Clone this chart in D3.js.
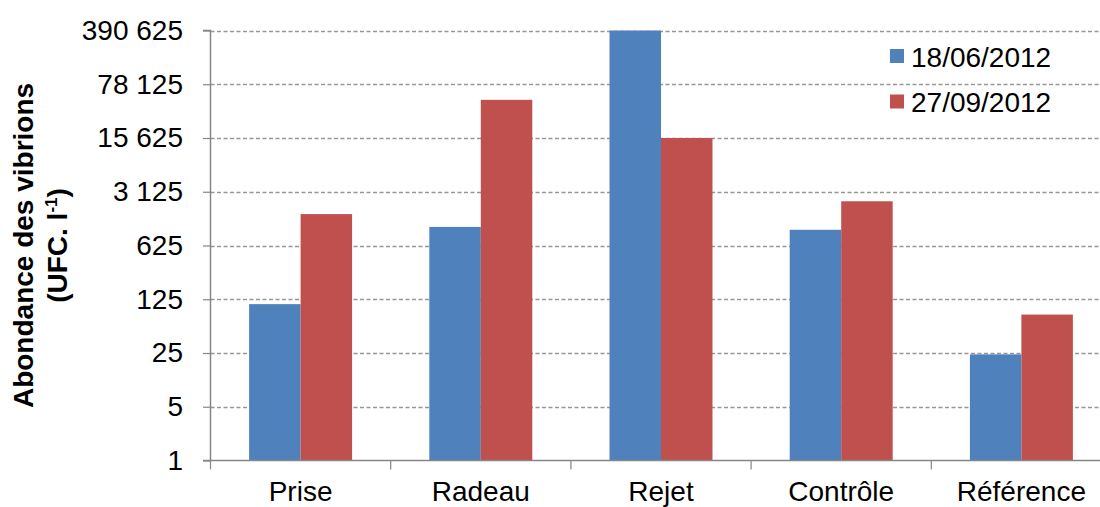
<!DOCTYPE html>
<html>
<head>
<meta charset="utf-8">
<script src="https://cdn.jsdelivr.net/npm/d3@7"></script>
<style>
  html, body { margin: 0; padding: 0; background: #fff; }
  svg { display: block; font-family: "Liberation Sans", Arial, sans-serif; }
</style>
</head>
<body>
<svg id="chart" width="1100" height="507"></svg>
<script>
// Sampling sites and vibrio counts (UFC per litre) for the two campaigns
const categories = ["Prise", "Radeau", "Rejet", "Contrôle", "Référence"];
const seriesNames = ["18/06/2012", "27/09/2012"];
const juneValues = [108, 1090, 390625, 1000, 24];
const septemberValues = [1600, 49000, 15625, 2350, 79];
const tickValues = [1, 5, 25, 125, 625, 3125, 15625, 78125, 390625];
const colors = ["#4F81BD", "#C0504D"];

const series = [juneValues, septemberValues];
const rows = categories.map((c, i) => ({
  category: c,
  values: seriesNames.map((s, j) => ({ series: s, value: series[j][i] }))
}));

const svg = d3.select("#chart");
const plot = { left: 210.5, right: 1111.5, top: 30.5, bottom: 460.5 };

const y = d3.scaleLog().base(5).domain([1, 390625]).range([plot.bottom, plot.top]);
const x0 = d3.scaleBand().domain(categories).range([plot.left, plot.right]).padding(0);
const x1 = d3.scaleBand().domain(seriesNames).range([0, x0.bandwidth()])
  .paddingInner(0).paddingOuter(0.75);
const color = d3.scaleOrdinal().domain(seriesNames).range(colors);

const fmt = d3.formatLocale({ decimal: ",", thousands: " ", grouping: [3], currency: ["", " €"] }).format(",d");

// Dashed horizontal gridlines
svg.append("g")
  .selectAll("line")
  .data(tickValues.slice(1))
  .join("line")
  .attr("x1", plot.left)
  .attr("x2", 1100)
  .attr("y1", d => Math.round(y(d)) + 0.5)
  .attr("y2", d => Math.round(y(d)) + 0.5)
  .attr("stroke", "#969696")
  .attr("stroke-width", 1.3)
  .attr("stroke-dasharray", "4,2.5");

// Bars
const groups = svg.append("g")
  .selectAll("g")
  .data(rows)
  .join("g")
  .attr("transform", d => `translate(${x0(d.category)},0)`);

groups.selectAll("rect")
  .data(d => d.values)
  .join("rect")
  .attr("x", d => x1(d.series))
  .attr("width", x1.bandwidth())
  .attr("y", d => y(d.value))
  .attr("height", d => plot.bottom - y(d.value))
  .attr("fill", d => color(d.series));

// Y axis
const yAxis = d3.axisLeft(y)
  .tickValues(tickValues)
  .tickFormat(d => fmt(d))
  .tickSize(7.5)
  .tickPadding(20);

const yg = svg.append("g")
  .attr("transform", `translate(${plot.left},0)`)
  .call(yAxis);
yg.select(".domain").attr("stroke", "#868686").attr("stroke-width", 1.5)
  .attr("d", `M-7.5,${plot.top}H0V${plot.bottom}`);
yg.selectAll(".tick line").attr("stroke", "#868686").attr("stroke-width", 1.2);
yg.selectAll(".tick text")
  .attr("font-size", 28)
  .attr("fill", "#000")
  .attr("font-family", "Liberation Sans, Arial, sans-serif");

// X axis with category separators
const xg = svg.append("g");
xg.append("line")
  .attr("x1", plot.left - 7.5)
  .attr("x2", 1100)
  .attr("y1", plot.bottom)
  .attr("y2", plot.bottom)
  .attr("stroke", "#868686")
  .attr("stroke-width", 1.5);
xg.selectAll("line.sep")
  .data(categories)
  .join("line")
  .attr("class", "sep")
  .attr("x1", d => x0(d))
  .attr("x2", d => x0(d))
  .attr("y1", plot.bottom)
  .attr("y2", plot.bottom + 9)
  .attr("stroke", "#868686")
  .attr("stroke-width", 1.2);
xg.selectAll("text")
  .data(categories)
  .join("text")
  .attr("x", d => x0(d) + x0.bandwidth() / 2)
  .attr("y", 501)
  .attr("text-anchor", "middle")
  .attr("font-size", 28)
  .attr("fill", "#000")
  .text(d => d);

// Y axis title on two lines
const title = svg.append("text")
  .attr("transform", "rotate(-90)")
  .attr("text-anchor", "middle")
  .attr("font-size", 28)
  .attr("font-weight", "bold")
  .attr("fill", "#000");
title.append("tspan")
  .attr("x", -245.5)
  .attr("y", 33)
  .text("Abondance des vibrions");
const line2 = title.append("tspan")
  .attr("x", -245.5)
  .attr("y", 67);
line2.append("tspan").text("(UFC. l");
line2.append("tspan").attr("font-size", 17).attr("dy", -10).text("-1");
line2.append("tspan").attr("dy", 10).text(")");

// Legend
const legend = svg.append("g")
  .selectAll("g")
  .data(seriesNames)
  .join("g")
  .attr("transform", (d, i) => `translate(890,${49 + i * 45.5})`);
legend.append("rect")
  .attr("width", 14)
  .attr("height", 14)
  .attr("fill", d => color(d));
legend.append("text")
  .attr("x", 21)
  .attr("y", 17.5)
  .attr("font-size", 28)
  .attr("fill", "#000")
  .text(d => d);
</script>
</body>
</html>
